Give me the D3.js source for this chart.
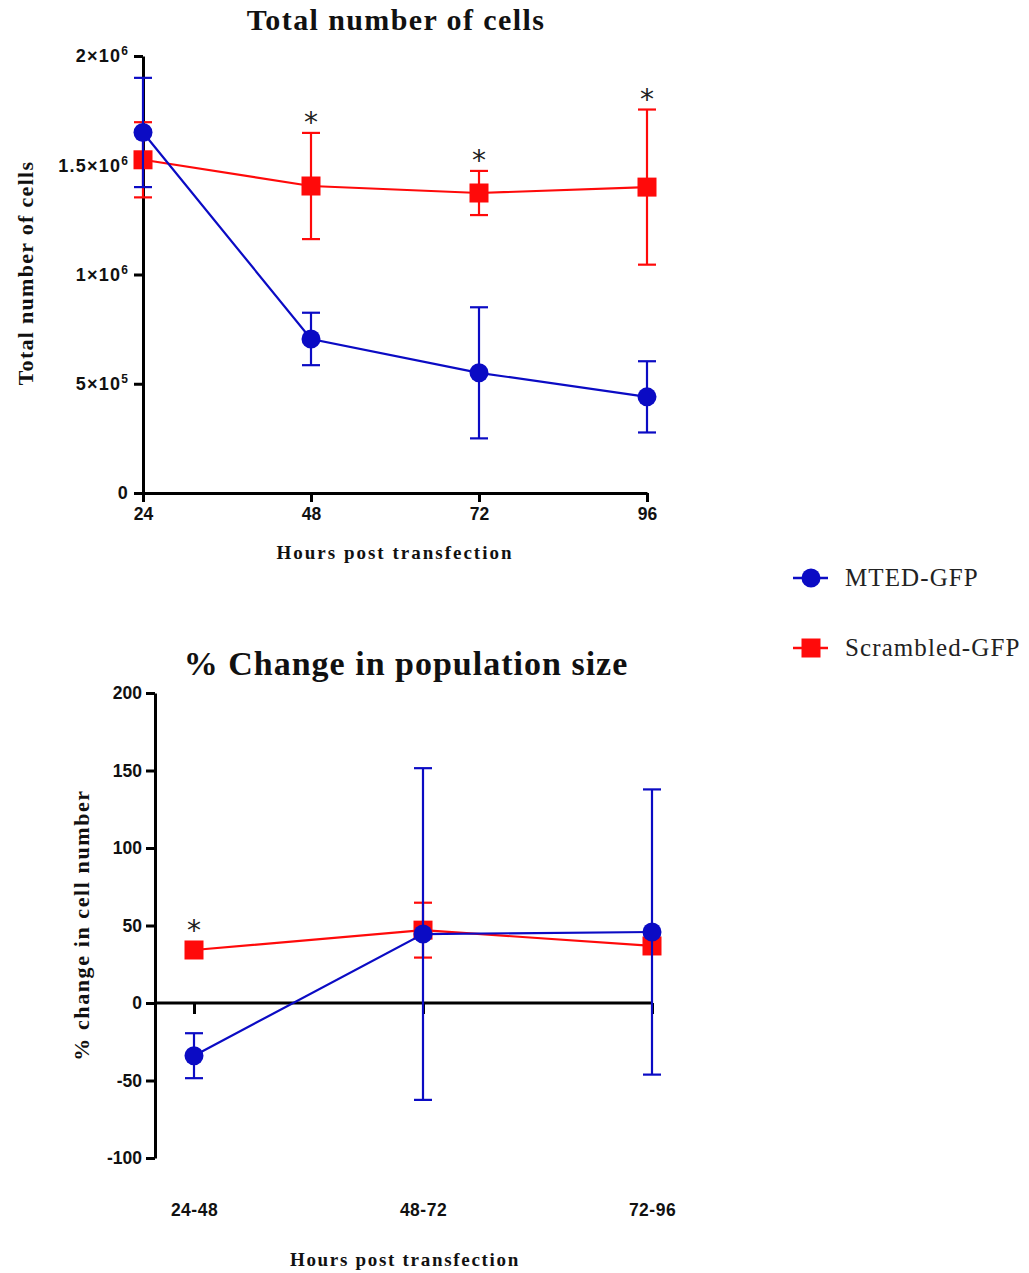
<!DOCTYPE html>
<html>
<head>
<meta charset="utf-8">
<script src="https://cdn.jsdelivr.net/npm/d3@7"></script>
<style>
  html, body { margin: 0; padding: 0; background: #fff; }
  svg { display: block; }
  .tick text { font-family: "Liberation Sans", Arial, sans-serif; font-weight: bold; font-size: 17.5px; fill: #111; }
  .ylog .tick text { font-size: 18px; letter-spacing: 1.2px; }
</style>
</head>
<body>
<svg id="chart" width="1029" height="1273"></svg>
<script>
// Total cell counts at each time point (mean and SD)
const hours = [24, 48, 72, 96];
const mtedCells = [1650000, 705000, 550000, 440000];
const mtedCellsSd = [250000, 120000, 300000, 163000];
const scrambledCells = [1525000, 1405000, 1373000, 1400000];
const scrambledCellsSd = [172000, 243000, 101000, 355000];
const cellsSignificant = [48, 72, 96];
const cellTicks = [0, 500000, 1000000, 1500000, 2000000];
const cellTickLabels = [["0", ""], ["5×10", "5"], ["1×10", "6"], ["1.5×10", "6"], ["2×10", "6"]];

// Percentage change in population between time points
const intervals = ["24-48", "48-72", "72-96"];
const mtedChange = [-34, 44.5, 45.8];
const mtedChangeSd = [14.5, 107, 92];
const scrambledChange = [34.2, 47, 36.8];
const scrambledChangeSd = [3, 17.7, 3];
const changeSignificant = ["24-48"];
const changeTicks = [-100, -50, 0, 50, 100, 150, 200];

const series = [
  { name: "MTED-GFP", color: "#0b0bc4", shape: "circle" },
  { name: "Scrambled-GFP", color: "#ff0a0a", shape: "square" }
];

const svg = d3.select("#chart");
const serif = "'Liberation Serif', 'Times New Roman', serif";

function marker(g, shape, color, x, y) {
  if (shape === "circle") {
    g.append("circle").attr("cx", x).attr("cy", y).attr("r", 9.5).attr("fill", color);
  } else {
    g.append("rect").attr("x", x - 9.5).attr("y", y - 9.5).attr("width", 19).attr("height", 19).attr("fill", color);
  }
}

function drawSeries(g, xs, vals, sds, xScale, yScale, s) {
  const grp = g.append("g");
  const line = d3.line().x((d, i) => xScale(xs[i])).y(d => yScale(d));
  grp.append("path").datum(vals).attr("d", line)
    .attr("fill", "none").attr("stroke", s.color).attr("stroke-width", 2.2);
  vals.forEach((v, i) => {
    const x = xScale(xs[i]);
    const yt = yScale(v + sds[i]), yb = yScale(v - sds[i]);
    grp.append("line").attr("x1", x).attr("x2", x).attr("y1", yt).attr("y2", yb)
      .attr("stroke", s.color).attr("stroke-width", 2.2);
    [yt, yb].forEach(yy => grp.append("line").attr("x1", x - 9).attr("x2", x + 9)
      .attr("y1", yy).attr("y2", yy).attr("stroke", s.color).attr("stroke-width", 2.2));
    marker(grp, s.shape, s.color, x, yScale(v));
  });
}

function styleAxis(g) {
  g.selectAll(".domain").attr("stroke", "#000").attr("stroke-width", 3);
  g.selectAll(".tick line").attr("stroke", "#000").attr("stroke-width", 3);
}

function label(g, text, size, spacing) {
  return g.append("text").attr("text-anchor", "middle")
    .attr("font-family", serif).attr("font-weight", "bold")
    .attr("font-size", size).attr("letter-spacing", spacing).attr("fill", "#111")
    .text(text);
}

// ---------- Top panel: total number of cells ----------
const x1 = d3.scaleLinear().domain([24, 96]).range([143, 647]);
const y1 = d3.scaleLinear().domain([0, 2000000]).range([493, 56]);

const topPanel = svg.append("g");
label(topPanel, "Total number of cells", 30, 1.4).attr("x", 396).attr("y", 30);

const yAx1 = topPanel.append("g").attr("class", "ylog").attr("transform", "translate(143,0)")
  .call(d3.axisLeft(y1).tickValues(cellTicks).tickSize(9).tickSizeOuter(0).tickPadding(5).tickFormat(() => ""));
yAx1.selectAll(".tick text").each(function (d, i) {
  const t = d3.select(this);
  const lab = cellTickLabels[i];
  t.append("tspan").text(lab[0]);
  if (lab[1]) t.append("tspan").attr("font-size", 12).attr("dy", -7).text(lab[1]);
});
const xAx1 = topPanel.append("g").attr("transform", "translate(0,493)")
  .call(d3.axisBottom(x1).tickValues(hours).tickSize(9).tickSizeOuter(0).tickPadding(6));
styleAxis(yAx1); styleAxis(xAx1);

label(topPanel, "Total number of cells", 22, 1.3).attr("transform", "translate(33,273) rotate(-90)");
label(topPanel, "Hours post transfection", 19, 2.0).attr("x", 395).attr("y", 559);

drawSeries(topPanel, hours, scrambledCells, scrambledCellsSd, x1, y1, series[1]);
drawSeries(topPanel, hours, mtedCells, mtedCellsSd, x1, y1, series[0]);

cellsSignificant.forEach(h => {
  const i = hours.indexOf(h);
  const topVal = Math.max(scrambledCells[i] + scrambledCellsSd[i], mtedCells[i] + mtedCellsSd[i]);
  topPanel.append("text").attr("x", x1(h)).attr("y", y1(topVal) - 1).attr("text-anchor", "middle")
    .attr("font-family", "'DejaVu Sans', sans-serif").attr("font-size", 28).attr("fill", "#222").text("*");
});

// ---------- Bottom panel: % change in population size ----------
const x2 = d3.scalePoint().domain(intervals).range([194, 652]);
const y2 = d3.scaleLinear().domain([-100, 200]).range([1158, 693]);

const botPanel = svg.append("g");
label(botPanel, "% Change in population size", 34, 1).attr("x", 406).attr("y", 675);

const yAx2 = botPanel.append("g").attr("transform", "translate(155,0)")
  .call(d3.axisLeft(y2).tickValues(changeTicks).tickSize(9).tickSizeOuter(0).tickPadding(4)
    .tickFormat(d => String(d)));
const xAx2 = botPanel.append("g").attr("transform", `translate(0,${y2(0)})`)
  .call(d3.axisBottom(x2).tickSize(11).tickSizeOuter(0).tickPadding(190));
xAx2.select(".domain").attr("d", `M155,0H${x2("72-96")}`);
xAx2.selectAll(".tick text").attr("letter-spacing", 0.5);
styleAxis(yAx2); styleAxis(xAx2);

label(botPanel, "% change in cell number", 22, 1.6).attr("transform", "translate(89,925) rotate(-90)");
label(botPanel, "Hours post transfection", 19, 1.7).attr("x", 405).attr("y", 1266);

drawSeries(botPanel, intervals, scrambledChange, scrambledChangeSd, x2, y2, series[1]);
drawSeries(botPanel, intervals, mtedChange, mtedChangeSd, x2, y2, series[0]);

changeSignificant.forEach(c => {
  const i = intervals.indexOf(c);
  botPanel.append("text").attr("x", x2(c)).attr("y", y2(scrambledChange[i] + scrambledChangeSd[i]) - 5)
    .attr("text-anchor", "middle").attr("font-family", "'DejaVu Sans', sans-serif")
    .attr("font-size", 28).attr("fill", "#222").text("*");
});

// ---------- Legend ----------
const legend = svg.append("g");
series.forEach((s, i) => {
  const cy = 578 + i * 70;
  legend.append("line").attr("x1", 793).attr("x2", 828).attr("y1", cy).attr("y2", cy)
    .attr("stroke", s.color).attr("stroke-width", 2.5);
  marker(legend, s.shape, s.color, 811, cy);
  legend.append("text").attr("x", 845).attr("y", cy + 8).attr("font-family", serif)
    .attr("font-size", 25).attr("letter-spacing", 1.1).attr("fill", "#222").text(s.name);
});
</script>
</body>
</html>
